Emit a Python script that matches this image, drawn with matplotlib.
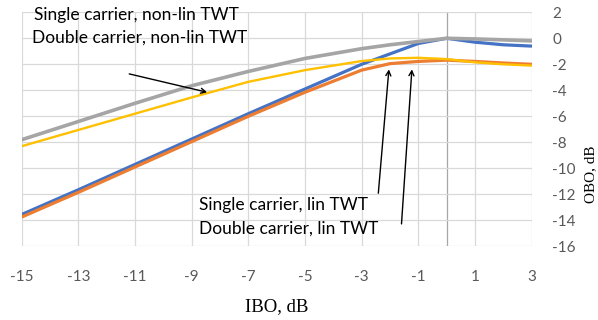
import numpy as np
import matplotlib
matplotlib.use("Agg")
import matplotlib.pyplot as plt

# IBO points (dB) and OBO (dB) for each case
ibo = [-15, -13, -11, -9, -7, -5, -3, -2, -1, 0, 1, 2, 3]

single_lin = [-13.55, -11.65, -9.7, -7.75, -5.8, -3.9, -2.0, -1.2, -0.4, 0.0, -0.3, -0.5, -0.6]
double_lin = [-13.75, -11.85, -9.9, -7.95, -6.0, -4.15, -2.45, -1.95, -1.78, -1.68, -1.78, -1.9, -2.0]
single_nonlin = [-7.8, -6.4, -5.0, -3.65, -2.55, -1.55, -0.8, -0.5, -0.25, 0.0, -0.05, -0.12, -0.2]
double_nonlin = [-8.3, -7.05, -5.8, -4.55, -3.35, -2.45, -1.75, -1.55, -1.5, -1.6, -1.85, -2.0, -2.1]

xticks = np.arange(-15, 4, 2)
yticks = np.arange(-16, 3, 2)

plt.rcParams['font.family'] = ['Lato', 'DejaVu Sans']
plt.rcParams['axes.unicode_minus'] = False

fig = plt.figure(figsize=(5.98, 3.20), dpi=100)
ax = fig.add_axes([0.0363, 0.2303, 0.889 - 0.0363, 0.9616 - 0.2303])

ax.plot(ibo, single_lin, color='#4472C4', lw=2.3, solid_capstyle='round', zorder=3)
ax.plot(ibo, double_lin, color='#ED7D31', lw=2.3, solid_capstyle='round', zorder=3)
ax.plot(ibo, single_nonlin, color='#A5A5A5', lw=2.6, solid_capstyle='round', zorder=3)
ax.plot(ibo, double_nonlin, color='#FFC000', lw=1.7, solid_capstyle='round', zorder=4)

ax.set_xlim(-15, 3)
ax.set_ylim(-16, 2)
ax.set_xticks(xticks)
ax.set_yticks(yticks)
ax.grid(True, color='#D9D9D9', lw=0.9, zorder=0)
ax.axvline(0, color='#A6A6A6', lw=0.9, zorder=1)
for s in ax.spines.values():
    s.set_visible(False)

ax.yaxis.tick_right()
ax.tick_params(length=0, labelsize=11, labelcolor='#595959')
ax.tick_params(axis='x', pad=17)
ax.tick_params(axis='y', pad=15)

ax.set_xlabel('IBO, dB', family='Liberation Serif', fontsize=13.5, labelpad=10)
fig.text(0.987, 0.455, 'OBO, dB', family='Liberation Serif', fontsize=11,
         rotation=90, ha='center', va='center')

# labels and arrows
ax.text(-14.57, 1.79, 'Single carrier, non-lin TWT', fontsize=12.5, va='center', clip_on=False)
ax.text(-14.64, 0.02, 'Double carrier, non-lin TWT', fontsize=12.5, va='center', clip_on=False)
ax.text(-8.74, -12.82, 'Single carrier, lin TWT', fontsize=12.5, va='center')
ax.text(-8.74, -14.62, 'Double carrier, lin TWT', fontsize=12.5, va='center')

arrow = dict(arrowstyle='->,head_length=0.35,head_width=0.18', color='black', lw=1)
ax.annotate('', xy=(-8.36, -4.2), xytext=(-11.3, -2.69), arrowprops=arrow, zorder=5)
ax.annotate('', xy=(-2.03, -2.18), xytext=(-2.42, -12.13), arrowprops=arrow, zorder=5)
ax.annotate('', xy=(-1.22, -2.18), xytext=(-1.60, -14.49), arrowprops=arrow, zorder=5)

fig.savefig('out.png', dpi=100)
